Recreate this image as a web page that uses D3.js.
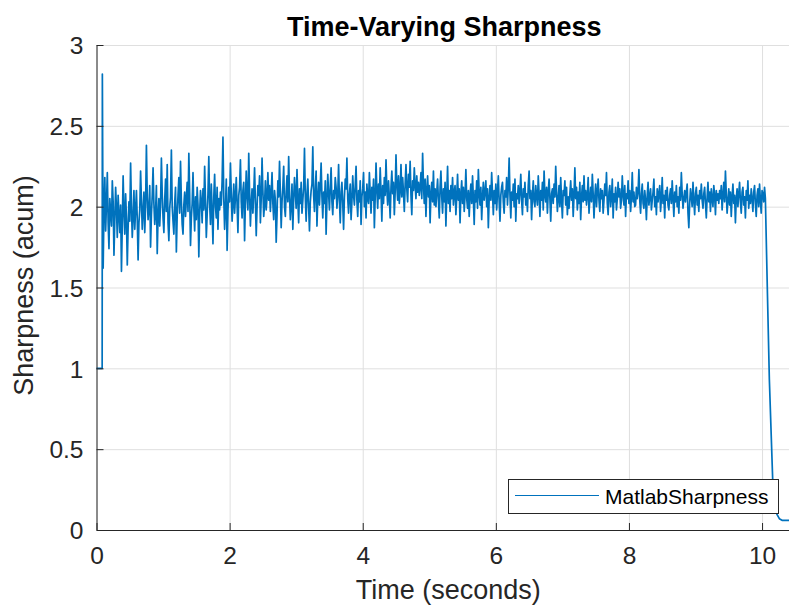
<!DOCTYPE html>
<html>
<head>
<meta charset="utf-8">
<script src="https://cdn.jsdelivr.net/npm/d3@7"></script>
<style>
  body { margin: 0; background: #fff; }
  text { font-family: "Liberation Sans", Arial, sans-serif; }
</style>
</head>
<body>
<div id="chart"></div>
<script>
// Lead-in: signal sits at 1 before the noise starts, then a spike
const leadTimes = [0, 0.085, 0.088];
const leadValues = [1, 1, 2.82];

// Noisy sharpness, sampled every 0.0125 s from t = 0.1 s (one row = 0.25 s)
const noiseStart = 0.1;
const noiseStep = 0.0125;
const noiseValues = [
  1.62, 1.98, 2.18, 1.85, 2.02, 2.21, 1.90, 1.74, 2.05, 1.96, 1.88, 2.16, 2.03, 1.70, 1.92, 2.12, 1.99, 1.81, 2.07, 1.95,
  1.84, 2.01, 1.60, 1.89, 2.19, 1.97, 1.83, 2.08, 1.93, 1.64, 1.87, 2.03, 1.91, 2.27, 2.00, 1.81, 1.94, 2.10, 1.86, 1.98,
  2.10, 1.92, 1.67, 1.90, 1.98, 2.22, 2.04, 1.86, 1.97, 2.09, 1.84, 2.01, 2.38, 2.06, 1.92, 1.99, 2.13, 1.75, 1.95, 2.07,
  2.24, 2.02, 1.89, 1.96, 2.13, 1.71, 1.94, 2.05, 1.88, 2.01, 2.30, 2.08, 1.93, 1.84, 2.04, 2.17, 1.97, 2.26, 1.90, 1.79,
  1.99, 2.06, 2.35, 2.00, 1.91, 1.83, 2.02, 2.12, 1.72, 1.95, 2.07, 2.18, 1.96, 2.28, 2.04, 1.89, 1.83, 2.01, 2.09, 1.94,
  2.05, 2.15, 1.97, 2.33, 2.08, 1.76, 1.93, 2.02, 2.21, 1.99, 1.85, 2.06, 1.92, 2.12, 2.01, 1.69, 1.96, 2.10, 2.03, 1.90,
  2.11, 1.98, 2.25, 2.04, 1.81, 1.95, 2.08, 2.31, 2.02, 1.89, 2.14, 1.97, 1.77, 2.06, 2.20, 2.00, 1.93, 2.12, 1.86, 2.05,
  1.98, 2.09, 2.01, 2.16, 2.43, 2.05, 1.86, 1.99, 2.17, 1.73, 1.97, 2.12, 2.03, 2.27, 2.08, 1.91, 2.02, 2.14, 1.96, 2.06,
  2.18, 2.01, 1.84, 2.07, 2.12, 2.29, 2.03, 1.93, 2.10, 2.15, 1.79, 2.04, 2.22, 2.06, 1.98, 2.33, 2.09, 1.88, 2.02, 2.11,
  1.96, 2.08, 2.24, 2.03, 1.82, 2.00, 2.13, 2.07, 2.19, 1.90, 2.05, 2.30, 2.10, 1.94, 2.01, 2.16, 1.98, 2.06, 2.21, 2.04,
  2.13, 1.97, 2.08, 2.21, 2.02, 1.92, 2.10, 2.04, 1.78, 1.95, 2.16, 2.06, 2.28, 2.09, 1.87, 2.03, 2.12, 2.25, 2.00, 1.94,
  2.09, 2.19, 2.03, 2.31, 2.07, 1.92, 2.01, 2.14, 1.86, 2.05, 2.18, 2.08, 1.99, 2.23, 2.04, 1.90, 2.11, 2.02, 2.15, 1.96,
  2.04, 2.12, 2.36, 2.06, 1.91, 2.08, 2.17, 2.00, 1.85, 2.03, 2.10, 2.14, 2.37, 2.07, 1.97, 2.11, 2.22, 1.88, 2.05, 2.15,
  2.01, 2.13, 2.27, 2.06, 1.93, 2.09, 2.02, 2.16, 1.83, 2.04, 2.20, 2.08, 1.98, 2.12, 2.24, 2.03, 1.95, 2.10, 2.05, 2.18,
  2.12, 1.99, 2.07, 2.26, 2.04, 1.90, 2.09, 2.15, 2.02, 1.86, 2.06, 2.17, 2.11, 2.30, 2.05, 1.96, 2.08, 2.14, 1.92, 2.03,
  2.19, 2.07, 2.01, 2.13, 2.25, 2.04, 1.94, 2.10, 2.03, 2.16, 1.89, 2.06, 2.11, 2.21, 2.00, 2.09, 1.93, 2.14, 2.05, 2.02,
  2.21, 2.08, 1.96, 2.12, 2.04, 2.17, 1.87, 2.06, 2.27, 2.10, 1.99, 2.14, 2.05, 2.24, 2.09, 1.91, 2.13, 2.02, 2.18, 2.07,
  2.29, 2.11, 2.01, 2.16, 2.06, 1.93, 2.12, 2.22, 2.08, 2.15, 1.95, 2.09, 2.32, 2.13, 2.04, 2.19, 2.02, 2.10, 2.26, 2.06,
  2.18, 2.09, 1.97, 2.14, 2.26, 2.11, 2.03, 2.20, 2.12, 2.28, 2.07, 1.95, 2.16, 2.10, 2.24, 2.13, 2.05, 2.19, 2.09, 2.15,
  2.07, 2.12, 2.21, 2.05, 2.33, 2.14, 2.02, 2.17, 1.94, 2.10, 2.19, 2.06, 2.13, 1.90, 2.08, 2.15, 2.03, 2.22, 2.01, 2.11,
  2.00, 2.09, 2.17, 2.04, 1.93, 2.12, 2.22, 2.06, 1.96, 2.11, 2.03, 2.15, 1.88, 2.07, 2.25, 2.02, 2.10, 1.97, 2.13, 2.05,
  2.18, 2.01, 2.09, 2.13, 1.95, 2.06, 2.20, 2.04, 2.11, 1.90, 2.08, 2.16, 2.02, 2.12, 1.97, 2.07, 2.23, 2.05, 1.99, 2.10,
  1.94, 2.07, 2.14, 2.02, 2.19, 2.05, 1.89, 2.10, 2.03, 2.16, 1.99, 2.23, 2.08, 2.01, 2.12, 1.92, 2.06, 2.15, 2.04, 2.09,
  2.16, 2.00, 2.11, 1.87, 2.05, 2.13, 2.04, 2.21, 2.08, 1.95, 2.10, 2.02, 2.14, 1.98, 2.09, 2.19, 2.03, 1.91, 2.07, 2.12,
  2.15, 2.03, 1.96, 2.10, 2.06, 2.18, 2.01, 2.12, 2.30, 2.07, 1.93, 2.09, 2.04, 2.14, 2.00, 2.17, 1.91, 2.08, 2.05, 2.13,
  2.02, 2.09, 2.20, 2.04, 1.95, 2.11, 2.06, 2.15, 2.01, 2.08, 1.97, 2.13, 2.22, 2.05, 2.10, 1.92, 2.07, 2.16, 2.03, 2.00,
  2.13, 2.06, 2.01, 2.19, 2.08, 1.94, 2.10, 2.04, 2.15, 1.98, 2.22, 2.07, 2.03, 2.12, 1.96, 2.09, 2.17, 2.05, 1.91, 2.08,
  2.11, 2.02, 2.14, 2.06, 2.25, 2.09, 1.97, 2.05, 2.13, 2.00, 2.18, 2.04, 1.93, 2.10, 2.07, 2.16, 2.01, 2.12, 1.95, 2.06,
  1.99, 2.08, 2.16, 2.04, 2.11, 1.94, 2.07, 2.24, 2.05, 2.12, 1.98, 2.09, 2.02, 2.15, 1.92, 2.06, 2.13, 2.03, 2.19, 2.04,
  2.10, 2.01, 2.07, 2.18, 1.96, 2.05, 2.12, 2.03, 2.20, 2.08, 1.93, 2.06, 2.14, 2.00, 2.09, 2.17, 2.04, 1.97, 2.11, 2.05,
  2.10, 1.96, 2.04, 2.14, 2.07, 2.21, 2.02, 1.95, 2.09, 2.13, 2.00, 2.06, 2.17, 1.93, 2.08, 2.03, 2.12, 1.98, 2.05, 2.15,
  2.06, 2.11, 1.99, 2.04, 2.19, 2.07, 2.01, 2.13, 1.94, 2.08, 2.05, 2.16, 2.02, 2.10, 1.97, 2.06, 2.21, 2.03, 2.09, 2.00,
  2.01, 2.12, 2.05, 2.09, 2.23, 2.04, 1.96, 2.08, 2.14, 2.02, 1.99, 2.10, 2.04, 1.92, 2.07, 2.15, 2.01, 2.06, 2.11, 1.98,
  2.04, 2.09, 2.17, 2.00, 2.06, 1.95, 2.11, 2.03, 2.08, 2.13, 1.97, 2.05, 2.18, 2.02, 2.07, 1.93, 2.10, 2.04, 2.12, 2.01,
  1.98, 2.07, 2.11, 2.02, 2.16, 2.05, 1.94, 2.09, 2.03, 2.13, 2.00, 2.06, 1.96, 2.12, 2.04, 2.21, 2.08, 1.99, 2.05, 2.10,
  2.03, 2.09, 2.14, 1.96, 1.87, 2.02, 2.11, 2.06, 2.00, 2.15, 2.04, 1.95, 2.08, 2.12, 2.01, 2.07, 1.97, 2.10, 2.05, 2.14,
  2.04, 1.99, 2.08, 2.12, 2.02, 1.93, 2.06, 2.15, 2.03, 2.09, 1.97, 2.11, 2.05, 2.00, 2.13, 2.07, 1.95, 2.10, 2.04, 2.08,
  2.02, 2.10, 2.05, 2.13, 1.98, 2.07, 2.15, 2.03, 2.22, 2.08, 1.96, 2.04, 2.11, 2.01, 2.09, 1.94, 2.06, 2.14, 2.02, 2.07,
  1.90, 2.05, 2.11, 2.00, 2.08, 2.15, 2.03, 1.96, 2.09, 2.12, 2.01, 2.06, 1.93, 2.10, 2.04, 2.16, 1.99, 2.07, 2.02, 2.11,
  2.05, 1.97, 2.09, 2.13, 2.02, 1.94, 2.07, 2.11, 2.00, 2.14, 2.04, 1.96, 2.10, 2.08, 2.03, 2.12, 2.05
];

// Tail: fast drop after the sound ends
const tailTimes = [10.08, 10.11, 10.16, 10.19, 10.22, 10.26, 10.3, 10.42];
const tailValues = [1.48, 0.93, 0.31, 0.16, 0.1, 0.07, 0.06, 0.06];

const xTicks = [0, 2, 4, 6, 8, 10];
const yTicks = [0, 0.5, 1, 1.5, 2, 2.5, 3];
const seriesName = "MatlabSharpness";

// build one point list
const data = [];
leadTimes.forEach((t, i) => data.push({ t: t, v: leadValues[i] }));
noiseValues.forEach((v, i) => data.push({ t: noiseStart + i * noiseStep, v: v }));
tailTimes.forEach((t, i) => data.push({ t: t, v: tailValues[i] }));

const W = 789, H = 607;
const margin = { top: 45, right: -1, bottom: 77, left: 96.5 };
const width = W - margin.left - margin.right;
const height = H - margin.top - margin.bottom;

const svg = d3.select("#chart")
    .append("svg")
    .attr("width", W)
    .attr("height", H)
    .append("g")
    .attr("transform", `translate(${margin.left},${margin.top})`);

const x = d3.scaleLinear().domain([0, 10.42]).range([0, width]);
const y = d3.scaleLinear().domain([0, 3]).range([height, 0]);

const axisColor = "#262626";
const gridColor = "#dfdfdf";
const lineColor = "#0072BD";

// Grid
svg.append("g")
    .attr("transform", `translate(0,${height})`)
    .call(d3.axisBottom(x).tickValues(xTicks).tickSize(-height).tickFormat(""))
    .call(g => g.select(".domain").remove())
    .selectAll("line").attr("stroke", gridColor);

svg.append("g")
    .call(d3.axisLeft(y).tickValues(yTicks).tickSize(-width).tickFormat(""))
    .call(g => g.select(".domain").remove())
    .selectAll("line").attr("stroke", gridColor);

// Line
const line = d3.line()
    .x(d => x(d.t))
    .y(d => y(d.v));

svg.append("path")
    .datum(data)
    .attr("fill", "none")
    .attr("stroke", lineColor)
    .attr("stroke-width", 1.7)
    .attr("stroke-linejoin", "round")
    .attr("d", line);

// Axes
const xAxis = svg.append("g")
    .attr("transform", `translate(0,${height})`)
    .call(d3.axisBottom(x).tickValues(xTicks).tickSizeInner(-7).tickSizeOuter(0).tickPadding(17).tickFormat(d3.format("")));

const yAxis = svg.append("g")
    .call(d3.axisLeft(y).tickValues(yTicks).tickSizeInner(-7).tickSizeOuter(0).tickPadding(13).tickFormat(d3.format("")));

[xAxis, yAxis].forEach(a => {
    a.select(".domain").attr("stroke", axisColor);
    a.selectAll(".tick line").attr("stroke", axisColor);
    a.selectAll(".tick text")
        .attr("fill", axisColor)
        .style("font-size", "24.5px")
        .style("font-family", "'Liberation Sans', Arial, sans-serif");
});
yAxis.selectAll(".tick text").attr("dy", "0.36em");

// Title and labels
svg.append("text")
    .attr("x", width / 2 + 1)
    .attr("y", -9)
    .attr("text-anchor", "middle")
    .attr("fill", "#000")
    .style("font-size", "27px")
    .style("font-weight", "bold")
    .text("Time-Varying Sharpness");

svg.append("text")
    .attr("x", width / 2 + 5)
    .attr("y", height + 69)
    .attr("text-anchor", "middle")
    .attr("fill", axisColor)
    .style("font-size", "27px")
    .text("Time (seconds)");

svg.append("text")
    .attr("transform", "rotate(-90)")
    .attr("x", -height / 2 + 2)
    .attr("y", -margin.left + 33)
    .attr("text-anchor", "middle")
    .attr("fill", axisColor)
    .style("font-size", "27px")
    .text("Sharpness (acum)");

// Legend
const legend = svg.append("g")
    .attr("transform", `translate(${508 - margin.left},${479 - margin.top})`);

legend.append("rect")
    .attr("x", 0.5)
    .attr("y", 0.5)
    .attr("width", 270)
    .attr("height", 34)
    .attr("fill", "#fff")
    .attr("stroke", axisColor);

legend.append("line")
    .attr("x1", 7)
    .attr("x2", 91)
    .attr("y1", 16.5)
    .attr("y2", 16.5)
    .attr("stroke", lineColor)
    .attr("stroke-width", 1.2);

legend.append("text")
    .attr("x", 97)
    .attr("y", 24.5)
    .attr("fill", "#000")
    .style("font-size", "21px")
    .text(seriesName);
</script>
</body>
</html>
